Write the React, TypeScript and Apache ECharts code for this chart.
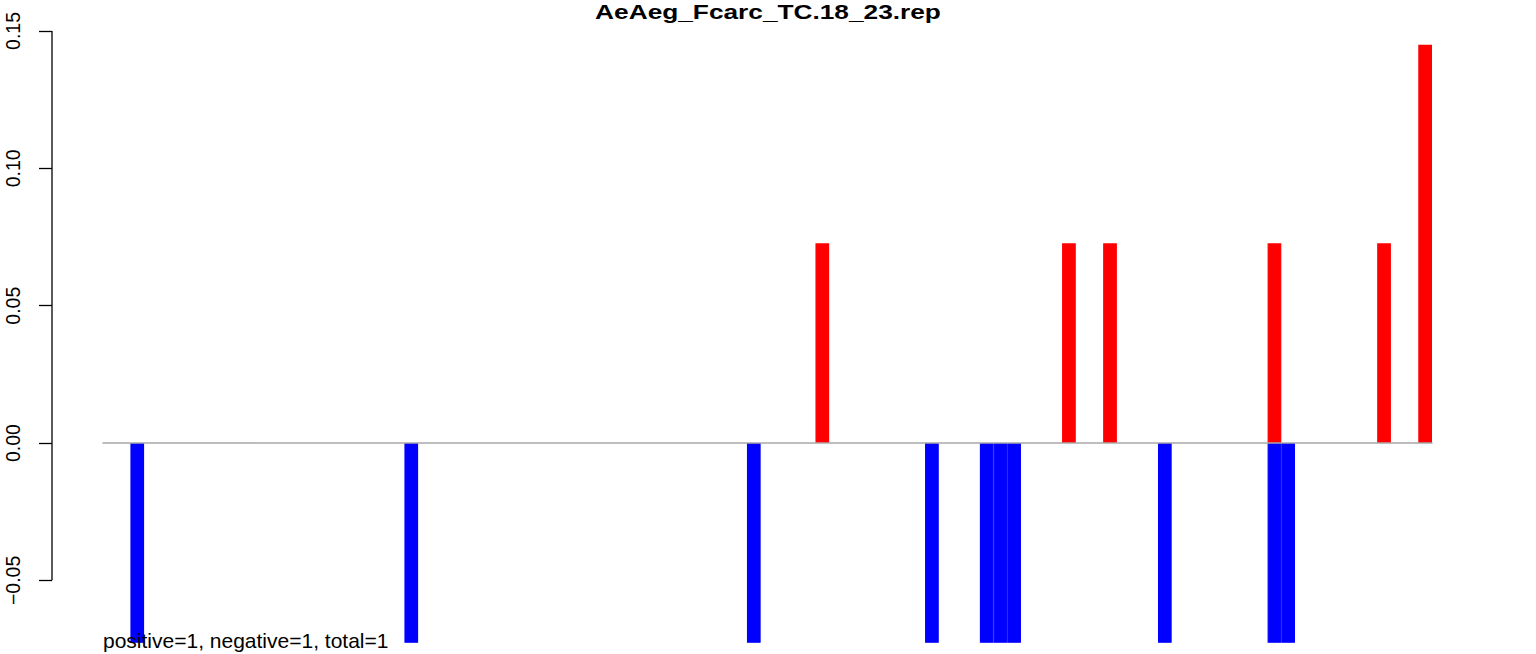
import React, { useEffect, useRef } from "react";
import * as echarts from "echarts";

const TITLE = "AeAeg_Fcarc_TC.18_23.rep";
const NOTE = "positive=1, negative=1, total=1";
const SLOT_COUNT = 97;
const categories: string[] = Array.from({ length: SLOT_COUNT }, (_, i) => String(i + 1));

// positive (red) bars: slot index -> value
const redSlots = [52, 70, 73, 85, 93, 96];
const redValues = [0.0727, 0.0727, 0.0727, 0.0727, 0.0727, 0.145];
// negative (blue) bars: slot index -> value
const blueSlots = [2, 22, 47, 60, 64, 65, 66, 77, 85, 86];
const blueValues = [-0.0727, -0.0727, -0.0727, -0.0727, -0.0727, -0.0727, -0.0727, -0.0727, -0.0727, -0.0727];

const yTicks = [-0.05, 0, 0.05, 0.1, 0.15];
const yMin = -0.0728;
const yMax = 0.15;

function buildSeries(slots: number[], values: number[]): (number | null)[] {
  const arr: (number | null)[] = categories.map(() => null);
  slots.forEach((s, i) => {
    arr[s] = values[i];
  });
  return arr;
}

export default function App() {
  const ref = useRef<HTMLDivElement>(null);
  useEffect(() => {
    if (!ref.current) return;
    const chart = echarts.init(ref.current, undefined, { renderer: "svg" });
    const font = "'Liberation Sans', Arial, Helvetica, sans-serif";
    const gridLeft = 103;
    const axisOffset = 51;
    chart.setOption({
      animation: false,
      textStyle: { fontFamily: font },
      grid: { left: gridLeft, right: 104, top: 31, bottom: 11, containLabel: false },
      xAxis: {
        type: "category",
        data: categories,
        boundaryGap: true,
        z: 5,
        axisLine: { show: true, onZero: true, lineStyle: { color: "#a8a8a8", width: 1.5 } },
        axisTick: { show: false },
        axisLabel: { show: false },
        splitLine: { show: false },
      },
      yAxis: {
        type: "value",
        min: yMin,
        max: yMax,
        offset: axisOffset,
        axisLine: { show: false },
        splitLine: { show: false },
        axisTick: {
          show: true,
          customValues: yTicks,
          length: 13,
          lineStyle: { color: "#000", width: 1.3 },
        },
        axisLabel: {
          show: true,
          customValues: yTicks,
          rotate: 90,
          margin: 29,
          color: "#000",
          fontSize: 19.5,
          fontFamily: font,
          formatter: (v: number) => (v < 0 ? "\u2212" + Math.abs(v).toFixed(2) : v.toFixed(2)),
        },
      },
      series: [
        {
          type: "bar",
          data: buildSeries(redSlots, redValues),
          barCategoryGap: 0,
          barGap: "-100%",
          itemStyle: { color: "#ff0000", borderColor: "#ff0000", borderWidth: 1.2 },
        },
        {
          type: "bar",
          data: buildSeries(blueSlots, blueValues),
          barCategoryGap: 0,
          barGap: "-100%",
          itemStyle: { color: "#0000ff", borderColor: "#0000ff", borderWidth: 1.2 },
        },
      ],
    });
    const yTop = chart.convertToPixel({ yAxisIndex: 0 }, yTicks[yTicks.length - 1]) as number;
    const yBot = chart.convertToPixel({ yAxisIndex: 0 }, yTicks[0]) as number;
    const axisX = gridLeft - axisOffset;
    chart.setOption({
      graphic: [
        {
          type: "line",
          shape: { x1: axisX, y1: yTop, x2: axisX, y2: yBot },
          style: { stroke: "#000", lineWidth: 1.3 },
          z: 10,
        },
        {
          type: "text",
          x: 768,
          y: 11,
          scaleX: 1.25,
          style: {
            text: TITLE,
            align: "center",
            verticalAlign: "middle",
            fontSize: 21,
            fontWeight: "bold",
            fontFamily: font,
            fill: "#000",
          },
          z: 10,
        },
        {
          type: "text",
          x: 103,
          y: 640,
          style: {
            text: NOTE,
            align: "left",
            verticalAlign: "middle",
            fontSize: 21,
            fontFamily: font,
            fill: "#000",
          },
          z: 10,
        },
      ],
    });
    return () => chart.dispose();
  }, []);
  return <div ref={ref} style={{ width: 1536, height: 654, position: "absolute", left: 0, top: 0 }} />;
}
